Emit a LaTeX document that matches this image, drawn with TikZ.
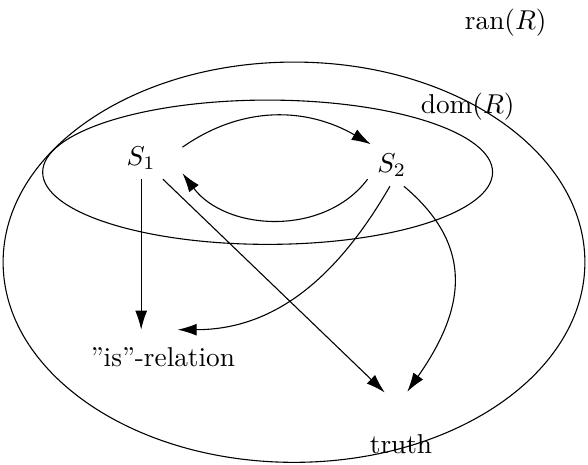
\documentclass[tikz,border=0pt]{standalone}
\usetikzlibrary{arrows.meta}

\begin{document}
\begin{tikzpicture}[>={Latex[length=7pt,width=4.4pt]}, rel/.style={->}]
        \useasboundingbox (0,0) rectangle (7.58,-5.99);
        % the two sets
        \draw (3.79,-3.38) ellipse (3.75 and 2.58);
        \draw (3.45,-2.22) ellipse (2.90 and 0.93);
        \node (ran) at (6.52,-0.29) {ran$(R)$};
        \node (dom) at (6.03,-1.38) {dom$(R)$};
        % elements
        \node[minimum width=1.05cm, minimum height=0.45cm] (s1) at (1.82,-2.04) {$S_1$};
        \node (s2) at (5.05,-2.13) {$S_2$};
        \node (isrel) at (2.10,-4.60) {''is''-relation};
        \node (truth) at (5.17,-5.73) {truth};
        \coordinate (isdown) at (1.82,-4.25);
        \coordinate (isleft) at (2.29,-4.25);
        \coordinate (truthl) at (4.96,-5.06);
        \coordinate (truthr) at (5.25,-5.05);
        % relations
        \draw[rel] (s1.15) to[out=35, in=150] (s2.135);
        \draw[rel] (s2.210) to[out=-127, in=-53] (s1.-20);
        \draw[rel] (s1) -- (isdown);
        \draw[rel] (s1) -- (truthl);
        \draw[rel] (s2.-95) to[out=-120, in=0] (isleft);
        \draw[rel] (s2.-60) to[out=-40, in=55, looseness=1.2] (truthr);
      \end{tikzpicture}
\end{document}
